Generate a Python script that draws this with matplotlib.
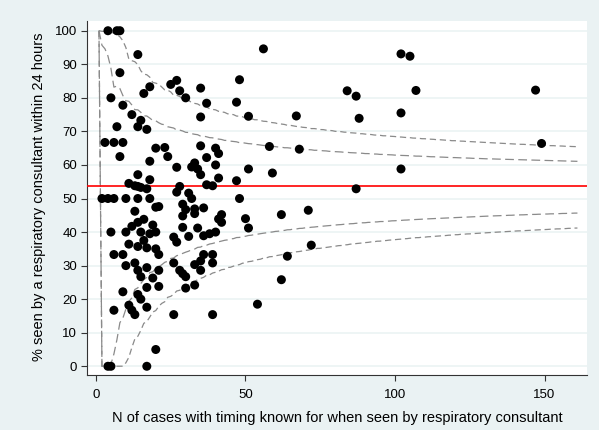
import math
import numpy as np
import matplotlib
matplotlib.use("Agg")
import matplotlib.pyplot as plt

plt.rcParams["font.family"] = ["Liberation Sans", "DejaVu Sans"]

# Hospitals: number of cases with timing known, and % seen by a consultant within 24 h
cases = [
    4, 7, 8,
    14, 8, 5, 9, 18, 16, 25, 27,
    12, 15, 14, 17, 7,
    3, 6, 9, 8, 20, 23, 24, 18, 27, 14, 18,
    11, 13, 14, 15, 17,
    2, 4, 6, 10, 14, 18,
    27, 28, 31, 32,
    56, 28, 30, 35, 37, 35, 48, 47, 51,
    35, 40, 41, 37, 33, 32, 34, 35, 40, 51, 41, 47, 37, 39, 48,
    20, 21, 13, 16, 14, 12, 10, 5, 19, 15, 18, 20, 16, 11, 14, 17, 20, 21, 6, 9,
    10, 13, 14, 17, 21, 19, 15, 17, 21, 9, 14, 15, 11, 12, 13, 17, 6, 20, 17, 4, 5,
    26, 27, 26, 26,
    29, 30, 29, 33, 36, 33, 29, 34, 42, 41, 42, 50, 51, 31, 36, 38, 40, 36, 39,
    35, 33, 39, 35, 28, 29, 30, 30, 33, 39, 54,
    67, 58, 68, 59, 62, 71, 72, 64, 62,
    84, 87, 88, 87, 102, 105, 107, 102, 102, 147, 149,
]
pct_seen = [
    100, 100, 100,
    92.9, 87.5, 80, 77.8, 83.3, 81.3, 84, 85.2,
    75, 73.3, 71.4, 70.6, 71.4,
    66.7, 66.7, 66.7, 62.5, 65, 65.2, 62.5, 61.1, 59.3, 57.1, 55.6,
    54.5, 53.8, 53.6, 53.3, 52.9,
    50, 50, 50, 50, 50, 50,
    51.9, 53.6, 51.6, 50,
    94.6, 82.1, 80, 82.9, 78.4, 74.3, 85.4, 78.7, 74.5,
    65.7, 65, 63.4, 62.2, 60.6, 59.4, 58.8, 57.1, 60, 58.8, 56.1, 55.3, 54.1, 53.8, 50,
    47.4, 47.6, 46.2, 43.8, 42.9, 41.7, 40, 40, 42.1, 40, 39.5, 40, 37.5, 36.4, 35.7, 35.3, 35, 33.3, 33.3, 33.3,
    30, 30.8, 28.6, 29.4, 28.6, 26.3, 26.7, 23.5, 23.8, 22.2, 21.4, 20, 18.2, 16.7, 15.4, 17.6, 16.7, 5, 0, 0, 0,
    38.5, 37, 30.8, 15.4,
    48.3, 46.7, 44.8, 46.9, 47.2, 45.5, 41.4, 41.2, 45.2, 43.9, 42.9, 44, 41.2, 38.7, 38.9, 39.5, 40, 33.3, 33.3,
    31.4, 30.3, 30.8, 28.6, 28.6, 27.6, 26.7, 23.3, 24.2, 15.4, 18.5,
    74.6, 65.5, 64.7, 57.6, 45.2, 46.5, 36.1, 32.8, 25.8,
    82.1, 80.5, 73.9, 52.9, 93.1, 92.4, 82.2, 75.5, 58.8, 82.3, 66.4,
]

overall_pct = 53.7          # national proportion (red line)
n_max = 161                 # funnel drawn out to this many cases
limit_levels = [(0.975, 0.025), (0.999, 0.001)]   # 95% and 99.8% limits
x_ticks = [0, 50, 100, 150]
y_ticks = list(range(0, 101, 10))


def binomial_limit(n, p, q):
    """Exact binomial control limit with interpolation between integer counts."""
    k = np.arange(n + 1)
    pmf = np.array([math.comb(n, int(i)) for i in k], dtype=float) * p ** k * (1 - p) ** (n - k)
    cdf = np.cumsum(pmf)
    r = int(np.argmax(cdf >= q - 1e-12))
    prev = cdf[r - 1] if r > 0 else 0.0
    alpha = (cdf[r] - q) / (cdf[r] - prev)
    return float(np.clip((r - alpha) / n, 0, 1)) * 100


ns = np.arange(1, n_max + 1)
p0 = overall_pct / 100

fig = plt.figure(figsize=(5.99, 4.30), dpi=100, facecolor="#EAF2F3")
ax = fig.add_axes([86.7 / 599, 1 - 375 / 430, (587 - 86.7) / 599, (375 - 21) / 430])
ax.set_facecolor("white")

for y in y_ticks:
    ax.axhline(y, color="#EAF2F3", lw=1.1, zorder=0)

dash_styles = {0.975: (0, (7, 3.5)), 0.999: (0, (5, 3))}
for hi_q, lo_q in limit_levels:
    upper = np.array([binomial_limit(int(n), p0, hi_q) for n in ns])
    lower = np.array([binomial_limit(int(n), p0, lo_q) for n in ns])
    # with a single case the funnel opens from its apex at 100%
    upper[0] = 100
    lower[0] = 100
    for curve in (upper, lower):
        ax.plot(ns, curve, color="#8a8a8a", lw=0.9, linestyle=dash_styles[hi_q], zorder=2)

ax.axhline(overall_pct, color="#ff0000", lw=1.2, zorder=3)
ax.scatter(cases, pct_seen, s=42, color="black", edgecolors="none", zorder=4)

ax.set_xlim(-3.1, 164.2)
ax.set_ylim(-2.6, 102.9)
ax.set_xticks(x_ticks)
ax.set_yticks(y_ticks)
ax.tick_params(axis="both", direction="out", length=4, width=0.8, color="#333333",
               labelsize=9.5, labelcolor="black", pad=3)
ax.tick_params(axis="x", pad=6)
for side in ("top", "right"):
    ax.spines[side].set_visible(False)
for side in ("left", "bottom"):
    ax.spines[side].set_color("#333333")
    ax.spines[side].set_linewidth(0.8)

ax.set_xlabel("N of cases with timing known for when seen by respiratory consultant", fontsize=10.5)
ax.set_ylabel("% seen by a respiratory consultant within 24 hours", fontsize=10.5)
ax.xaxis.set_label_coords(0.5, -0.102)
ax.yaxis.set_label_coords(-0.081, 0.503)

fig.savefig("out.png", dpi=100, facecolor=fig.get_facecolor())
